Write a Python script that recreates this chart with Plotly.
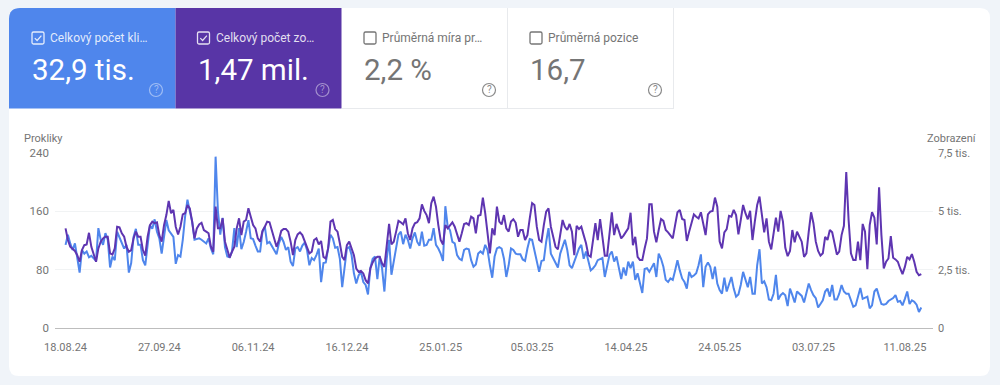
import pandas as pd
import plotly.graph_objects as go

START_DATE = "2024-08-18"
clicks = [114,128,116,107,116,98,76,107,102,105,97,99,95,92,137,121,114,130,121,83,98,93,132,124,116,109,114,76,89,125,136,114,114,93,86,114,141,136,149,132,123,102,128,148,134,130,125,88,100,98,121,153,176,160,146,121,122,123,121,118,116,123,109,101,235,160,128,151,111,98,97,105,137,111,137,108,118,132,148,123,122,113,105,105,132,139,116,118,112,
107,101,116,125,118,107,111,91,85,109,111,105,113,117,107,86,96,93,100,109,63,89,90,109,128,123,110,111,95,56,86,109,111,100,75,61,72,77,63,59,46,82,95,98,67,98,82,50,95,121,73,91,105,128,132,115,128,121,109,123,131,118,113,132,113,114,121,121,137,114,109,102,92,167,139,134,118,116,100,95,93,107,109,108,93,84,87,102,105,102,114,107,86,69,98,109,111,109,95,70,86,109,
107,102,101,101,94,92,109,122,121,107,91,77,92,93,118,137,102,95,89,83,102,111,121,107,86,82,91,102,109,114,95,105,93,79,82,86,93,95,96,70,86,100,105,91,98,82,67,83,72,91,82,91,66,75,63,48,81,82,77,84,89,70,102,95,84,66,63,68,66,79,93,79,68,63,54,77,70,72,75,86,101,56,84,90,84,67,84,61,52,47,69,50,60,70,54,43,46,59,77,66,56,70,
47,47,86,108,61,64,56,39,38,47,73,39,45,48,45,30,54,45,35,50,47,44,35,47,61,52,45,41,28,33,38,50,54,43,59,39,39,47,59,50,47,47,38,29,31,45,55,40,42,43,27,31,50,54,43,33,32,33,37,39,41,45,36,37,31,40,50,33,38,36,32,22,28]
impressions = [4270,3770,3480,3380,3300,3120,2840,3340,3550,3580,4080,3480,3120,2840,3410,3700,3840,3910,3910,3200,3150,3410,4340,4310,4060,3910,3480,3270,3340,3840,4130,3910,3910,3340,3100,3910,4410,4560,4490,4530,3980,3700,4410,4840,5450,4920,5060,4340,4010,4340,4870,4920,5270,5130,4560,3840,4270,4440,4510,4200,4130,4060,3480,3270,5200,4270,4270,4700,3700,3340,3020,3270,3480,4270,4700,3980,4560,4630,5130,4770,4410,4270,3840,3700,4160,4340,4560,4530,4200,
3840,3480,3770,4160,4240,4240,4130,3700,3120,3770,4010,4100,3980,3700,3480,3200,3270,3770,3840,3580,3730,3050,2980,3410,4560,4630,4240,4130,3630,3050,2910,3550,3700,3410,3120,2550,2410,2450,2340,2050,1910,2550,2810,2980,3050,3050,2770,2620,3700,4460,3580,3700,4130,4590,4530,4440,4700,4060,3770,4270,4490,4530,4700,5300,5020,4840,4490,5350,5630,5200,4410,3770,3580,4410,4270,4410,4530,4340,4060,3700,4060,4460,4490,4410,4770,4700,4060,4810,4840,5590,4920,3980,3200,4270,3980,5200,4560,4440,4840,4270,4130,4560,
4660,4510,3910,4200,4200,3770,3980,4700,5350,5270,4340,3770,3700,4410,4990,5130,4340,3910,3480,3370,4060,4630,4340,4200,4460,4130,3120,4380,4240,4340,3980,3630,3120,3050,3770,4490,3770,4670,3910,3100,3100,4130,4960,3980,4460,4160,3840,3960,4100,4270,4940,3550,3910,3050,2910,2910,3410,3840,5300,5300,4130,3670,4200,4670,4590,4200,4100,3980,3840,4410,4960,5060,4670,4630,3730,4130,4490,4870,4770,4700,4960,4410,3980,4870,4990,5020,5590,5200,3700,3410,4100,4240,4810,4770,5060,4840,4010,4630,5270,4920,4660,5020,
3770,4560,5270,5630,4840,4100,4700,3700,3370,4060,4730,4130,5020,4560,3440,3080,3300,4200,3670,4130,3910,3700,3050,3200,4130,4960,4490,3700,3300,3100,3200,3910,3770,4200,4100,3630,3150,3270,3980,4380,6680,4630,3200,2910,2910,3700,2910,4460,4130,2520,4410,4960,4730,3580,6030,3980,2550,2840,2980,3940,3010,2940,2840,2550,2310,2620,3050,2940,3170,2840,2410,2260,2310]
tick_dates = ["2024-08-18","2024-09-27","2024-11-06","2024-12-16","2025-01-25","2025-03-05","2025-04-14","2025-05-24","2025-07-03","2025-08-11"]
tick_labels = ["18.08.24","27.09.24","06.11.24","16.12.24","25.01.25","05.03.25","14.04.25","24.05.25","03.07.25","11.08.25"]
left_ticks = [0,80,160,240]
right_ticks = [0,2500,5000,7500]
right_labels = ["0","2,5 tis.","5 tis.","7,5 tis."]
metric_names = ["Celkový počet kli…","Celkový počet zo…","Průměrná míra pr…","Průměrná pozice"]
metric_values = ["32,9 tis.","1,47 mil.","2,2 %","16,7"]

W, H = 1000, 385
BLUE, PURPLE, GREY = "#4f86ec", "#5835a6", "#757575"
FONT = "Roboto"
px = lambda x: x / W
py = lambda y: 1 - y / H

def dates(n):
    return pd.date_range(START_DATE, periods=n, freq="D")

fig = go.Figure()
fig.add_trace(go.Scatter(x=dates(len(impressions)), y=impressions, yaxis="y2", mode="lines",
                         line=dict(color="#5e35b1", width=2), hoverinfo="skip"))
fig.add_trace(go.Scatter(x=dates(len(clicks)), y=clicks, yaxis="y", mode="lines",
                         line=dict(color="#4f86ec", width=2), hoverinfo="skip"))

shapes, ann = [], []
def P(points):
    return "M" + " L".join(f"{px(x)},{py(y)}" for x, y in points)

def paper_rrect(x0, y0, x1, y1, r, tl_only=False):
    rr = r
    cmds = f"M{px(x0+rr)},{py(y0)} L{px(x1-(0 if tl_only else rr))},{py(y0)} "
    if not tl_only:
        cmds += f"Q{px(x1)},{py(y0)} {px(x1)},{py(y0+rr)} L{px(x1)},{py(y1-rr)} Q{px(x1)},{py(y1)} {px(x1-rr)},{py(y1)} L{px(x0+rr)},{py(y1)} Q{px(x0)},{py(y1)} {px(x0)},{py(y1-rr)} "
    else:
        cmds += f"L{px(x1)},{py(y1)} L{px(x0)},{py(y1)} "
    cmds += f"L{px(x0)},{py(y0+rr)} Q{px(x0)},{py(y0)} {px(x0+rr)},{py(y0)} Z"
    return cmds

def add_path(path, fill=None, line=None, lw=1):
    shapes.append(dict(type="path", xref="paper", yref="paper", path=path,
                       fillcolor=fill or "rgba(0,0,0,0)", line=dict(color=line or "rgba(0,0,0,0)", width=lw if line else 0), layer="below"))

# page card
add_path(paper_rrect(9, 8, 990, 376, 10), fill="#ffffff")
# tiles
add_path(paper_rrect(9, 8, 175.5, 108.5, 11, tl_only=True), fill=BLUE)
shapes.append(dict(type="rect", xref="paper", yref="paper", x0=px(175.5), x1=px(341.5), y0=py(108.5), y1=py(8),
                   fillcolor=PURPLE, line=dict(width=0), layer="below"))
for x0, y0, x1, y1 in [(507, 8, 508, 108), (673, 8, 674, 109), (342, 108, 674, 109)]:
    shapes.append(dict(type="rect", xref="paper", yref="paper", x0=px(x0), x1=px(x1), y0=py(y1), y1=py(y0),
                       fillcolor="#e8eaed", line=dict(width=0), layer="below"))

tile_x = [9, 175.5, 342, 508]
check_x = [32, 197.5, 364, 530]
for i, x in enumerate(tile_x):
    colored = i < 2
    tc = "#ffffff" if colored else GREY
    dim = "rgba(255,255,255,0.85)" if colored else GREY
    bx = check_x[i]
    # checkbox
    add_path(paper_rrect(bx, 32, bx + 12, 44, 1.5), line=dim, lw=1.3)
    if colored:
        add_path(P([(bx + 2.8, 38.2), (bx + 5.1, 40.5), (bx + 9.4, 35.6)]), line=dim, lw=1.2)
    ann.append(dict(x=px(bx + 17.4), y=py(38), text=metric_names[i], xanchor="left", yanchor="middle",
                    font=dict(family=FONT, size=12, color=dim)))
    ann.append(dict(x=px(bx - 1), y=py(69.5), text=metric_values[i], xanchor="left", yanchor="middle",
                    font=dict(family=FONT, size=29.5, color=tc)))
    # help icon
    hx = x + 147
    hc = "rgba(255,255,255,0.45)" if colored else "#8a8a8a"
    shapes.append(dict(type="circle", xref="paper", yref="paper", x0=px(hx - 6.5), x1=px(hx + 6.5), y0=py(96.5), y1=py(83.5),
                       line=dict(color=hc, width=1.2), layer="below"))
    ann.append(dict(x=px(hx), y=py(90), text="?", xanchor="center", yanchor="middle",
                    font=dict(family=FONT, size=10, color=hc)))

ann.append(dict(x=px(23), y=py(138), text="Prokliky", xanchor="left", yanchor="middle",
                font=dict(family=FONT, size=11, color=GREY)))
ann.append(dict(x=px(978), y=py(138), text="Zobrazení", xanchor="right", yanchor="middle",
                font=dict(family=FONT, size=11, color=GREY)))
for a in ann:
    a.update(xref="paper", yref="paper", showarrow=False, borderpad=0)

yd = [py(328), py(153)]
fig.update_layout(
    width=W, height=H, autosize=False, margin=dict(l=0, r=0, t=0, b=0, autoexpand=False),
    paper_bgcolor="#f0f4f9", plot_bgcolor="rgba(0,0,0,0)", showlegend=False,
    shapes=shapes, annotations=ann,
    font=dict(family=FONT, color=GREY, size=12),
    xaxis=dict(domain=[px(55), px(933)], range=["2024-08-13 12:00", "2025-08-23 00:00"], type="date", automargin=False,
               tickmode="array", tickvals=tick_dates, ticktext=tick_labels, showgrid=False, zeroline=False,
               showline=False, ticks="", tickfont=dict(family=FONT, size=11, color=GREY), ticklabelstandoff=11),
    yaxis=dict(domain=yd, range=[0, 240], tickmode="array", tickvals=left_ticks, showgrid=True, gridcolor="#f1f3f4",
               gridwidth=1, zeroline=True, zerolinecolor="#bdbdbd", zerolinewidth=1, ticks="", showline=False, automargin=False,
               tickfont=dict(family=FONT, size=11.5, color=GREY), ticklabelstandoff=5),
    yaxis2=dict(domain=yd, range=[0, 7500], overlaying="y", side="right", tickmode="array", tickvals=right_ticks,
                ticktext=right_labels, showgrid=False, zeroline=False, ticks="", showline=False, automargin=False,
                tickfont=dict(family=FONT, size=11, color=GREY), ticklabelstandoff=4),
)
fig.write_html("out.html", config={"displayModeBar": False},
               post_script="document.body.style.margin='0';document.documentElement.style.overflow='hidden';")
